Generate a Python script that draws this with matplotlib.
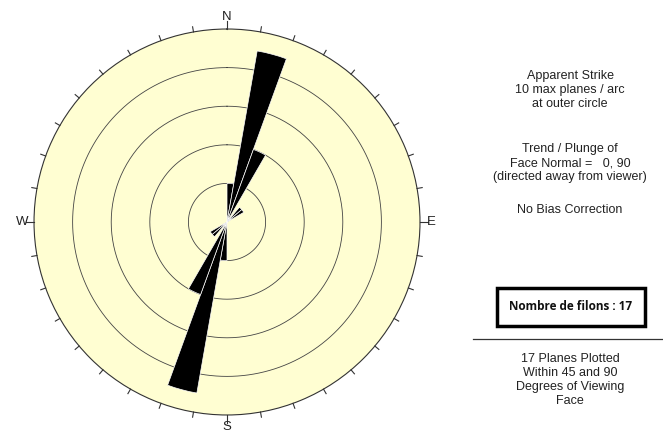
import numpy as np
import matplotlib.pyplot as plt

# rose diagram: 10 degree bins of apparent strike (bidirectional)
bin_start = [0, 10, 20, 40, 50, 180, 190, 200, 220, 230]
counts = [2, 9, 4, 1, 1, 2, 9, 4, 1, 1]
max_planes = 10
ring_levels = [2, 4, 6, 8]
compass = ['N', 'E', 'S', 'W']

info_top = "Apparent Strike\n10 max planes / arc\nat outer circle"
info_face = "Trend / Plunge of\nFace Normal =   0, 90\n(directed away from viewer)"
info_bias = "No Bias Correction"
box_text = "Nombre de filons : 17"
info_bottom = "17 Planes Plotted\nWithin 45 and 90\nDegrees of Viewing\nFace"

plt.rcParams['font.family'] = ['Liberation Sans', 'DejaVu Sans']

fig = plt.figure(figsize=(6.63, 4.33), dpi=100)
ax = fig.add_axes([0.0513, 0.0416, 0.5822, 0.8914], projection='polar')
ax.set_theta_zero_location('N')
ax.set_theta_direction(-1)
ax.set_facecolor('#FFFED2')
ax.set_ylim(0, max_planes)
ax.grid(False)
ax.set_xticks([])
ax.set_yticks([])
ax.spines['polar'].set_color('#333333')
ax.spines['polar'].set_linewidth(0.8)

full = np.linspace(0, 2 * np.pi, 361)
for r in ring_levels:
    ax.plot(full, np.full_like(full, r), color='#444444', lw=0.6)

theta = np.deg2rad(np.array(bin_start) + 5)
ax.bar(theta, counts, width=np.deg2rad(10), color='black',
       edgecolor='white', linewidth=0.5, zorder=3)

# outer ticks every 10 degrees
for a in range(0, 360, 10):
    t = np.deg2rad(a)
    ext = 0.4 if a % 90 == 0 else 0.27
    ax.plot([t, t], [max_planes, max_planes + ext], color='#333333',
            lw=0.8, clip_on=False)

for i, lab in enumerate(compass):
    t = np.deg2rad(90 * i)
    ax.text(t, max_planes + 0.6, lab, ha='center', va='center',
            fontsize=9.5, color='#222222', clip_on=False)

x0 = 0.86
fig.text(x0, 1 - 90 / 433, info_top, ha='center', va='center',
         fontsize=9, linespacing=1.25, color='#222222')
fig.text(x0, 1 - 163 / 433, info_face, ha='center', va='center',
         fontsize=9, linespacing=1.25, color='#222222')
fig.text(x0, 1 - 210 / 433, info_bias, ha='center', va='center',
         fontsize=9, color='#222222')
fig.text(571 / 663, 1 - 306 / 433, box_text, ha='center', va='center',
         fontsize=8.5, fontweight='bold', family=['Open Sans', 'DejaVu Sans'],
         color='#111111')
fig.patches.append(plt.Rectangle((497 / 663, 1 - 326 / 433), 148 / 663, 38 / 433,
                                 transform=fig.transFigure, fill=False,
                                 edgecolor='black', linewidth=2.5))
fig.lines.append(plt.Line2D([473 / 663, 1.0], [1 - 339 / 433, 1 - 339 / 433],
                            transform=fig.transFigure, color='#333333', lw=0.9))
fig.text(x0, 1 - 380 / 433, info_bottom, ha='center', va='center',
         fontsize=9, linespacing=1.25, color='#222222')

fig.savefig('out.png', dpi=100, facecolor='white')
